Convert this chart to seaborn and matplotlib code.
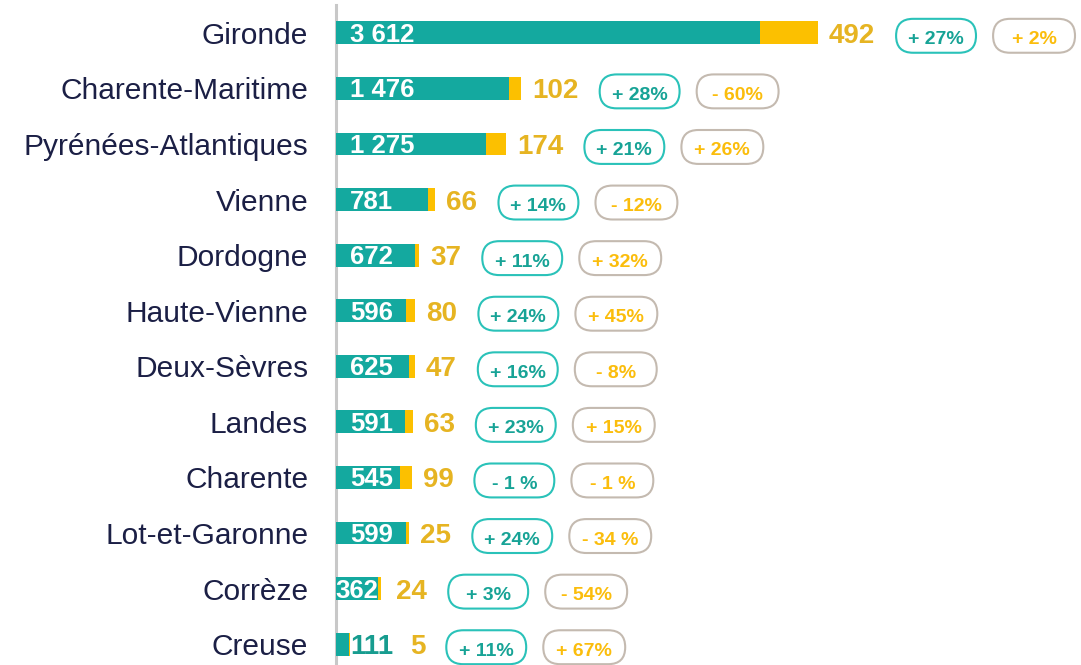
import pandas as pd
import matplotlib
matplotlib.use('Agg')
import matplotlib.pyplot as plt
import seaborn as sns
from matplotlib.offsetbox import DrawingArea, AnnotationBbox
from matplotlib.patches import FancyBboxPatch
from matplotlib.text import Text

# données
departements = ['Gironde', 'Charente-Maritime', 'Pyrénées-Atlantiques', 'Vienne', 'Dordogne',
                'Haute-Vienne', 'Deux-Sèvres', 'Landes', 'Charente', 'Lot-et-Garonne',
                'Corrèze', 'Creuse']
effectifs = [3612, 1476, 1275, 781, 672, 596, 625, 591, 545, 599, 362, 111]
nouveaux = [492, 102, 174, 66, 37, 80, 47, 63, 99, 25, 24, 5]
evol_effectifs = ['+ 27%', '+ 28%', '+ 21%', '+ 14%', '+ 11%', '+ 24%', '+ 16%', '+ 23%',
                  '- 1 %', '+ 24%', '+ 3%', '+ 11%']
evol_nouveaux = ['+ 2%', '- 60%', '+ 26%', '- 12%', '+ 32%', '+ 45%', '- 8%', '+ 15%',
                 '- 1 %', '- 34 %', '- 54%', '+ 67%']

df = pd.DataFrame({'departement': departements, 'effectifs': effectifs, 'nouveaux': nouveaux})
df['total'] = df['effectifs'] + df['nouveaux']

TEAL = '#14a99f'
JAUNE = '#fcc000'
JAUNE_TXT = '#e6b422'
NAVY = '#1b1f45'
PX = 72 / 100  # points par pixel

sns.set_theme(style='white')
plt.rcParams['font.family'] = ['Liberation Sans', 'DejaVu Sans']

fig = plt.figure(figsize=(10.81, 6.65), dpi=100)
ax = fig.add_axes([336 / 1081, 0, 1 - 336 / 1081, 660 / 665])

# barres empilées : total en jaune, effectifs en teal par-dessus
sns.barplot(data=df, x='total', y='departement', color=JAUNE, width=0.41, saturation=1,
            errorbar=None, linewidth=0, ax=ax, zorder=2)
sns.barplot(data=df, x='effectifs', y='departement', color=TEAL, width=0.41, saturation=1,
            errorbar=None, linewidth=0, ax=ax, zorder=3)

ax.set_xlim(0, 6346)
ax.set_ylim(11.374, -0.5)
ax.set_xlabel('')
ax.set_ylabel('')
ax.set_xticks([])
ax.tick_params(axis='y', length=0, pad=20, labelsize=21.5, labelcolor=NAVY)
for s in ['top', 'right', 'bottom']:
    ax.spines[s].set_visible(False)
ax.spines['left'].set_color('#c8c8c8')
ax.spines['left'].set_linewidth(2.2)


def pastille(texte, couleur_txt, couleur_bord, ancre, dx, w):
    h = 36 * PX
    wp = w * PX
    lw = 1.5
    da = DrawingArea(wp, h, 0, 0)
    da.add_artist(FancyBboxPatch((lw / 2, lw / 2), wp - lw, h - lw,
                                 boxstyle=f'round,pad=0,rounding_size={(h - lw) / 2}',
                                 facecolor='white', edgecolor=couleur_bord, linewidth=lw))
    da.add_artist(Text(wp / 2, h / 2 - 4 * PX, texte, ha='center', va='center',
                       color=couleur_txt, fontsize=14, fontweight='bold'))
    ab = AnnotationBbox(da, xy=(1, 0.5), xycoords=ancre, xybox=(dx * PX, 0),
                        boxcoords='offset points', box_alignment=(0, 0.5), frameon=False,
                        pad=0, annotation_clip=False)
    ax.add_artist(ab)


for i, row in df.iterrows():
    eff = row['effectifs']
    txt = f'{eff:,}'.replace(',', ' ')
    if eff >= 400:
        ax.annotate(txt, xy=(0, i), xytext=(14 * PX, -2 * PX), textcoords='offset points',
                    ha='left', va='center', color='white', fontweight='bold', fontsize=18.5,
                    zorder=4)
        ancre = ax.annotate(str(row['nouveaux']), xy=(row['total'], i), xytext=(11 * PX, -3 * PX),
                            textcoords='offset points', ha='left', va='center',
                            color=JAUNE_TXT, fontweight='bold', fontsize=20)
    elif eff >= 200:
        ax.annotate(txt, xy=(eff / 2, i), xytext=(0, -2 * PX), textcoords='offset points',
                    ha='center', va='center', color='white',
                    fontweight='bold', fontsize=18.5, zorder=4)
        ancre = ax.annotate(str(row['nouveaux']), xy=(row['total'], i), xytext=(15 * PX, -3 * PX),
                            textcoords='offset points', ha='left', va='center',
                            color=JAUNE_TXT, fontweight='bold', fontsize=20)
    else:
        lab = ax.annotate(txt, xy=(row['total'], i), xytext=(1 * PX, -3 * PX),
                          textcoords='offset points', ha='left', va='center', color='#179c8f',
                          fontweight='bold', fontsize=20)
        ancre = ax.annotate(str(row['nouveaux']), xy=(1, 0.5), xycoords=lab,
                            xytext=(16 * PX, 0), textcoords='offset points', ha='left',
                            va='center', color=JAUNE_TXT, fontweight='bold', fontsize=20)
    pastille(evol_effectifs[i], '#17a396', '#2ac2b9', ancre, 20, 82)
    pastille(evol_nouveaux[i], '#fbbd0c', '#c4bab0', ancre, 117, 84)

fig.savefig('out.png', dpi=100)
